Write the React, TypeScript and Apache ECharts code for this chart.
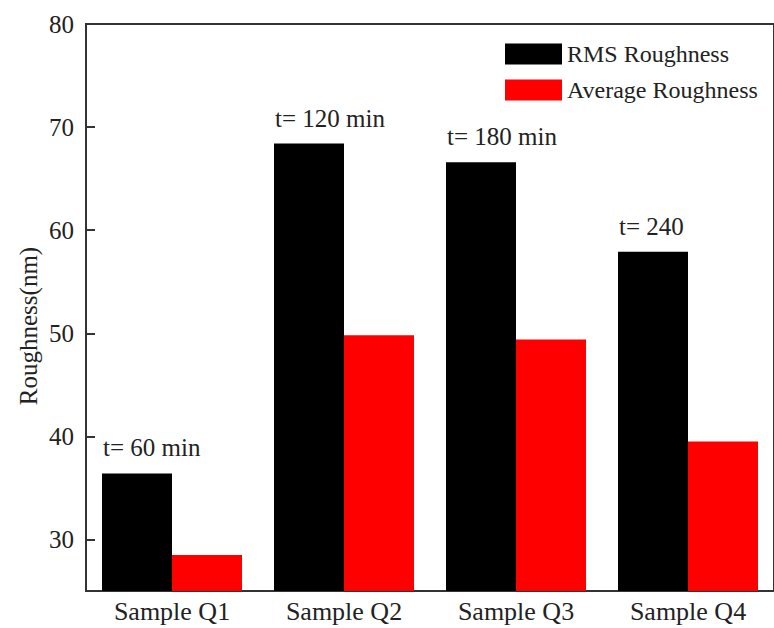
import React, { useEffect, useRef } from "react";
import * as echarts from "echarts";

const categories = ["Sample Q1", "Sample Q2", "Sample Q3", "Sample Q4"];
const rmsRoughness = [36.4, 68.4, 66.6, 57.9];
const averageRoughness = [28.5, 49.8, 49.4, 39.5];
const timeLabels = ["t= 60 min", "t= 120 min", "t= 180 min", "t= 240"];
const yTicks = [30, 40, 50, 60, 70, 80];

const FONT = "'Liberation Serif', 'Times New Roman', serif";

export default function App() {
  const ref = useRef<HTMLDivElement>(null);
  useEffect(() => {
    if (!ref.current) return;
    const chart = echarts.init(ref.current, null, { renderer: "svg" });
    chart.setOption({
      animation: false,
      backgroundColor: "#ffffff",
      textStyle: { fontFamily: FONT },
      grid: {
        left: 86,
        right: -4,
        top: 24,
        bottom: 37,
        show: true,
        borderColor: "#333",
        borderWidth: 2,
        containLabel: false,
      },
      legend: {
        orient: "vertical",
        left: 505,
        top: 42,
        padding: 0,
        itemWidth: 57,
        itemHeight: 21,
        itemGap: 12,
        textStyle: { fontFamily: FONT, fontSize: 24, color: "#222" },
        data: [
          { name: "RMS Roughness", icon: "rect" },
          { name: "Average Roughness", icon: "rect" },
        ],
      },
      xAxis: {
        type: "category",
        data: categories,
        axisLine: { lineStyle: { color: "#333", width: 2 } },
        axisTick: { show: false },
        axisLabel: { fontFamily: FONT, fontSize: 26, color: "#222", margin: 7 },
      },
      yAxis: {
        type: "value",
        min: 25,
        max: 80,
        axisLine: { show: true, lineStyle: { color: "#333", width: 2 } },
        axisTick: {
          show: true,
          inside: true,
          length: 9,
          lineStyle: { color: "#333", width: 2 },
          customValues: yTicks,
        },
        splitLine: { show: false },
        axisLabel: {
          fontFamily: FONT,
          fontSize: 25,
          color: "#222",
          margin: 12,
          customValues: yTicks,
        },
      },
      graphic: [
        {
          type: "text",
          x: 28,
          y: 326,
          rotation: Math.PI / 2,
          style: {
            text: "Roughness(nm)",
            fontFamily: FONT,
            fontSize: 25,
            fill: "#222",
            align: "center",
            verticalAlign: "middle",
          },
        },
      ],
      series: [
        {
          name: "RMS Roughness",
          type: "bar",
          data: rmsRoughness.map((v, i) => ({
            value: v,
            label: { formatter: timeLabels[i] },
          })),
          barWidth: 70,
          barGap: "0%",
          itemStyle: { color: "#000000" },
          label: {
            show: true,
            position: [1, -13],
            align: "left",
            verticalAlign: "bottom",
            fontFamily: FONT,
            fontSize: 25,
            color: "#222",
          },
        },
        {
          name: "Average Roughness",
          type: "bar",
          data: averageRoughness,
          barWidth: 70,
          barGap: "0%",
          itemStyle: { color: "#ff0000" },
        },
      ],
    });
    return () => chart.dispose();
  }, []);
  return (
    <div
      ref={ref}
      style={{ position: "absolute", left: 0, top: 0, width: 774, height: 628 }}
    />
  );
}
